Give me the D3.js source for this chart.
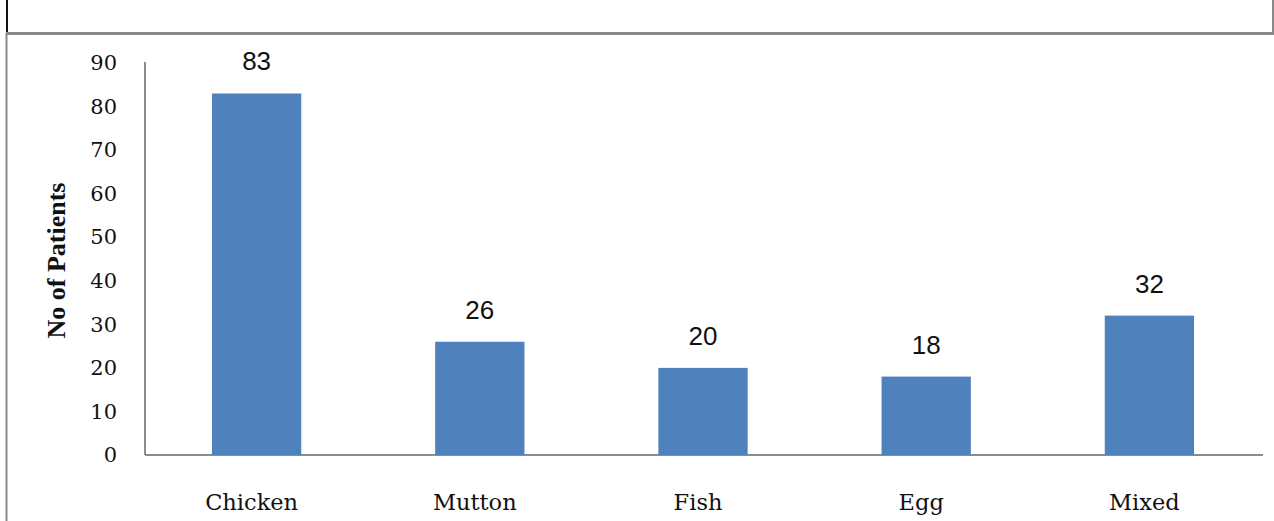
<!DOCTYPE html>
<html>
<head>
<meta charset="utf-8">
<script src="https://cdn.jsdelivr.net/npm/d3@7"></script>
<style>
  html, body { margin: 0; padding: 0; background: #fff; }
  svg { display: block; }
</style>
</head>
<body>
<svg id="chart" width="1274" height="521"></svg>
<script>
// Meat preference counts
const categories = ["Chicken", "Mutton", "Fish", "Egg", "Mixed"];
const patients = [83, 26, 20, 18, 32];
const yTicks = [0, 10, 20, 30, 40, 50, 60, 70, 80, 90];
const yTitle = "No of Patients";

const svg = d3.select("#chart");
const W = 1274, H = 521;
const plot = { left: 145, right: 1261, top: 63, bottom: 455 };

// Frame lines around the figure panel
const frame = svg.append("g");
frame.append("line").attr("x1", 7).attr("x2", 7).attr("y1", 0).attr("y2", 33)
  .attr("stroke", "#111").attr("stroke-width", 2);
frame.append("line").attr("x1", 1273).attr("x2", 1273).attr("y1", 0).attr("y2", 33)
  .attr("stroke", "#8a8a8a").attr("stroke-width", 2);
frame.append("line").attr("x1", 6).attr("x2", W).attr("y1", 33.5).attr("y2", 33.5)
  .attr("stroke", "#8a8a8a").attr("stroke-width", 3);
frame.append("line").attr("x1", 6.5).attr("x2", 6.5).attr("y1", 33).attr("y2", H)
  .attr("stroke", "#8a8a8a").attr("stroke-width", 2);

const x = d3.scaleBand()
  .domain(categories)
  .range([plot.left, plot.right])
  .paddingInner(0.6)
  .paddingOuter(0.3);

const y = d3.scaleLinear()
  .domain([0, 90])
  .range([plot.bottom, plot.top]);

// Y axis: line and labels, no tick marks
const yAxis = svg.append("g")
  .attr("transform", `translate(${plot.left},0)`)
  .call(d3.axisLeft(y).tickValues(yTicks).tickSize(0).tickPadding(28).tickFormat(d3.format("d")));
yAxis.select(".domain").attr("stroke", "#8c8c8c").attr("stroke-width", 2)
  .attr("d", `M0,${plot.top - 1}V${plot.bottom}`);
yAxis.selectAll("text")
  .attr("font-family", "'DejaVu Serif', serif")
  .attr("font-size", 21)
  .attr("fill", "#111");

// X axis baseline and category labels
const xAxis = svg.append("g")
  .attr("transform", `translate(0,${plot.bottom})`)
  .call(d3.axisBottom(x).tickSize(0).tickPadding(0));
xAxis.select(".domain").attr("stroke", "#8c8c8c").attr("stroke-width", 2)
  .attr("d", `M${plot.left},0H${plot.right + 2}`);
xAxis.selectAll("text")
  .attr("dy", null)
  .attr("y", 55)
  .attr("dx", -5)
  .attr("font-family", "'DejaVu Serif', serif")
  .attr("font-size", 22.5)
  .attr("fill", "#111");

// Bars
svg.append("g").selectAll("rect")
  .data(categories)
  .join("rect")
  .attr("x", d => x(d))
  .attr("width", x.bandwidth())
  .attr("y", (d, i) => y(patients[i]))
  .attr("height", (d, i) => y(0) - y(patients[i]))
  .attr("fill", "#4F81BD");

// Value labels above bars
svg.append("g").selectAll("text")
  .data(categories)
  .join("text")
  .attr("x", d => x(d) + x.bandwidth() / 2)
  .attr("y", (d, i) => y(patients[i]) - 23)
  .attr("text-anchor", "middle")
  .attr("font-family", "'Liberation Sans', Arial, sans-serif")
  .attr("font-size", 26)
  .attr("fill", "#111")
  .text((d, i) => patients[i]);

// Y axis title
svg.append("text")
  .attr("transform", `translate(65,${(178 + 343) / 2}) rotate(-90)`)
  .attr("text-anchor", "middle")
  .attr("font-family", "'Liberation Serif', 'Times New Roman', serif")
  .attr("font-weight", "bold")
  .attr("font-size", 26)
  .attr("fill", "#111")
  .text(yTitle);
</script>
</body>
</html>
